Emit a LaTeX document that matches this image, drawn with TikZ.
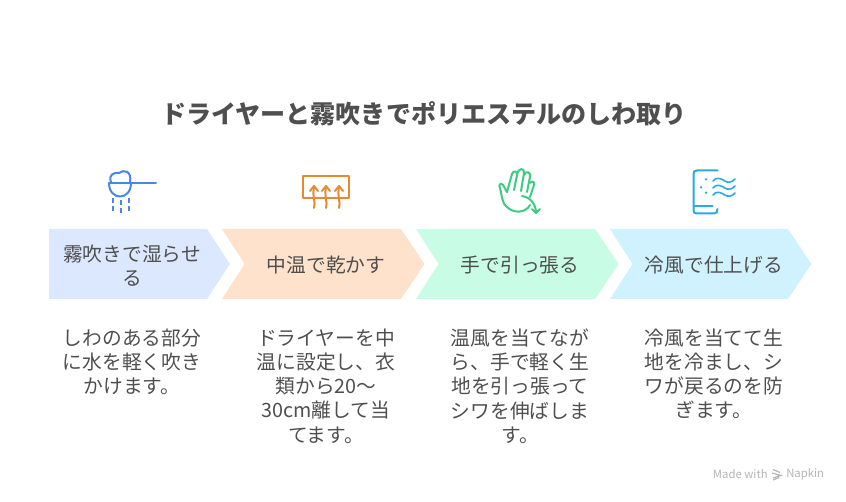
\documentclass[tikz,border=0pt]{standalone}
\usepackage{xcolor}
\usepackage{fontspec}
\setmainfont{Noto Sans CJK JP}
\usepackage{tikz}
\definecolor{textgray}{HTML}{4F4F4F}
\definecolor{markgray}{HTML}{B4B4B4}
\definecolor{bluefill}{HTML}{DBE8FE}
\definecolor{orangefill}{HTML}{FFE2CC}
\definecolor{greenfill}{HTML}{C8FCE4}
\definecolor{cyanfill}{HTML}{D0F2FF}
\definecolor{blueicon}{HTML}{4A86E8}
\definecolor{orangeicon}{HTML}{E58A2E}
\definecolor{greenicon}{HTML}{3CCB80}
\definecolor{cyanicon}{HTML}{29ABE2}
\tikzset{
    stepbox/.style={text=textgray, align=center, font=\fontsize{14.8}{18.5}\selectfont},
    stepnote/.style={text=textgray, align=center, anchor=north, font=\fontsize{14.8}{18.15}\selectfont},
    iconline/.style={line width=1.5pt, line cap=round, line join=round},
    marktext/.style={text=markgray, font=\fontsize{8.5}{10}\selectfont, inner sep=0pt}
}
\newcommand{\chevron}[3]{\fill[#3] (#1,229) -- (#2,229) -- ++(23.5,35) -- ++(-23.5,35) -- (#1,299) -- ++(22.5,-35) -- cycle;}

\begin{document}
\begin{tikzpicture}[x=0.75pt, y=-0.75pt]
    \useasboundingbox (0,0) rectangle (846,502);

    % Title
    \node (title) [text=textgray, font=\fontsize{18.8}{22}\selectfont\bfseries] at (424,114) {ドライヤーと霧吹きでポリエステルのしわ取り};

    % Chevrons
    \fill[bluefill] (49,229) -- (207,229) -- (230,264) -- (207,299) -- (49,299) -- cycle;
    \chevron{222}{401}{orangefill}
    \chevron{416}{595}{greenfill}
    \chevron{610}{788}{cyanfill}

    % Step labels
    \node (wet) [stepbox] at (132,265.5) {霧吹きで湿らせ\\る};
    \node (dry) [stepbox] at (326,265.5) {中温で乾かす};
    \node (pull) [stepbox] at (520,265.5) {手で引っ張る};
    \node (cool) [stepbox] at (714,265.5) {冷風で仕上げる};

    % Notes
    \node (wetnote) [stepnote] at (132,324) {しわのある部分\\に水を軽く吹き\\かけます。};
    \node (drynote) [stepnote] at (326,324) {ドライヤーを中\\温に設定し、衣\\類から20〜\\30cm離して当\\てます。};
    \node (pullnote) [stepnote] at (520,324) {温風を当てなが\\ら、手で軽く生\\地を引っ張って\\シワを伸ばしま\\す。};
    \node (coolnote) [stepnote] at (714,324) {冷風を当てて生\\地を冷まし、シ\\ワが戻るのを防\\ぎます。};

    % Spray icon
    \draw[iconline, blueicon] (109,183) -- (156,183);
    \draw[iconline, blueicon] (109,183) .. controls (109,201) and (131,201) .. (131,183);
    \draw[iconline, blueicon] (111,182) .. controls (108,175) and (114,172) .. (119,173)
        .. controls (124,169) and (132,171) .. (130,182);
    \draw[iconline, blueicon, dash pattern=on 3.6pt off 2.2pt, line cap=butt] (112.5,198) -- (112.5,212);
    \draw[iconline, blueicon, dash pattern=on 3.6pt off 2.2pt, line cap=butt] (121,200) -- (121,214);
    \draw[iconline, blueicon, dash pattern=on 3.6pt off 2.2pt, line cap=butt] (129,198) -- (129,212);

    % Dryer icon
    \draw[iconline, orangeicon] (303,176) rectangle (349,198);
    \foreach \hx in {314,326,339} {
        \draw[iconline, orangeicon] (\hx,208) .. controls (\hx+2,202) and (\hx-2,197) .. (\hx,187);
        \draw[iconline, orangeicon] (\hx-4,191) -- (\hx,186) -- (\hx+4,191);
    }

    % Hand icon
    \draw[iconline, greenicon] (507,192) -- (512,174) .. controls (513,170) and (518,171) .. (517,175)
        -- (514,190);
    \draw[iconline, greenicon] (517,175) .. controls (518,167) and (525,168) .. (524,173) -- (521,191);
    \draw[iconline, greenicon] (524,175) .. controls (526,170) and (531,172) .. (530,177) -- (527,192);
    \draw[iconline, greenicon] (530,183) .. controls (532,180) and (535,182) .. (534,185) -- (530,197);
    \draw[iconline, greenicon] (507,192) -- (503,185) .. controls (501,182) and (498,185) .. (500,188)
        .. controls (502,197) and (503,205) .. (507,207) .. controls (513,213) and (525,214) .. (530,205);
    \draw[iconline, greenicon] (522,196) .. controls (530,197) and (536,204) .. (536,213);
    \draw[iconline, greenicon] (532,209) -- (536,213) -- (540,209);

    % Phone icon
    \draw[iconline, cyanicon] (717.5,170.5) -- (697,170.5) .. controls (694,170.5) and (693.5,172) .. (693.5,174)
        -- (693.5,210) .. controls (693.5,212) and (694,213.5) .. (697,213.5) -- (714,213.5)
        .. controls (716.5,213.5) and (717.5,212) .. (717.5,209);
    \draw[iconline, cyanicon] (693.5,206) -- (712.5,206);
    \fill[cyanicon] (706,179.3) circle (1.3);
    \fill[cyanicon] (701,187.3) circle (1.3);
    \fill[cyanicon] (706,192.7) circle (1.3);
    \foreach \wy in {181,188,195} {
        \draw[iconline, cyanicon, line width=1.2pt] (713,\wy) .. controls (716,\wy-4) and (720,\wy-3) .. (724,\wy-0.5)
            .. controls (727,\wy+2) and (732,\wy+2) .. (735,\wy-2);
    }

    % Watermark
    \node (made) [marktext, anchor=east] at (768,474.5) {Made with};
    \node (napkin) [marktext, anchor=west] at (786,474.5) {Napkin};
    \draw[markgray, line width=0.9pt] (773,469.5) -- (780,472.5);
    \draw[markgray, line width=0.9pt] (772,473) -- (781,475.5) -- (773,478);
    \draw[markgray, line width=0.9pt] (773,480) -- (779,477.5);
\end{tikzpicture}
\end{document}
